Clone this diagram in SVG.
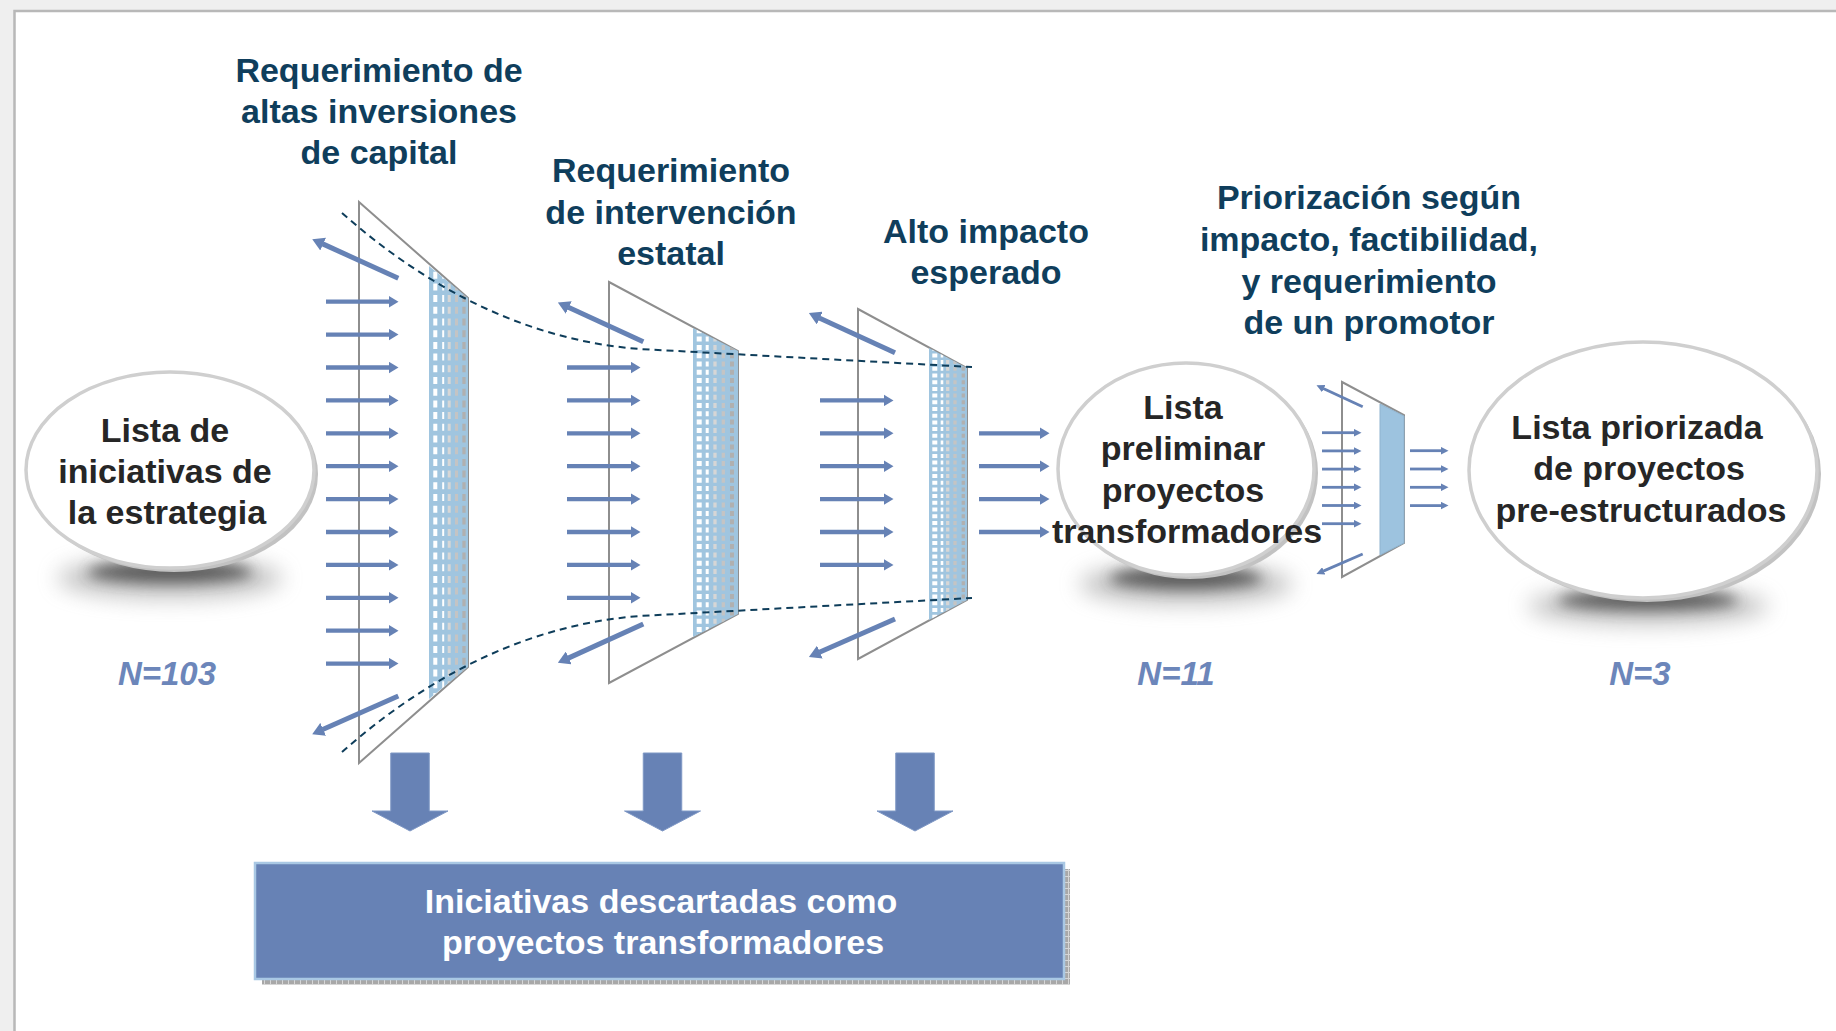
<svg xmlns="http://www.w3.org/2000/svg" width="1836" height="1031" viewBox="0 0 1836 1031">
<defs>
<style>
.t{font-family:"Liberation Sans",Arial,Helvetica,sans-serif;font-weight:bold;font-size:34px;text-anchor:middle}
.title{fill:#0f3e5c}
.node{fill:#262626}
.n{fill:#6c86ba;font-style:italic;font-size:33px}
.box{fill:#ffffff}
.frame{fill:none;stroke:#8e8e8e;stroke-width:2;stroke-linejoin:miter}
.mesh{fill:#a0c5df}
.ar{stroke:#6682b5;stroke-width:4.3;fill:none;marker-end:url(#hd)}
.ad{stroke:#6682b5;stroke-width:5;fill:none;marker-end:url(#hdd)}
.as{stroke:#6682b5;stroke-width:2.8;fill:none;marker-end:url(#hs)}
.dash{fill:none;stroke:#0e3d5a;stroke-width:2;stroke-dasharray:7 5}
.down{fill:#6782b5;stroke:#7f98c5;stroke-width:1}
.rim{fill:#c2c2c2}
.ell{fill:#ffffff;stroke:#cfcfcf;stroke-width:3.5}
.shw{fill:#8a8a8a;opacity:0.55;filter:url(#blurw)}
.shd{fill:#4a4a4a;opacity:0.85;filter:url(#blur)}
</style>
<filter id="blur" x="-40%" y="-150%" width="180%" height="400%"><feGaussianBlur stdDeviation="7"/></filter>
<filter id="blurw" x="-40%" y="-150%" width="180%" height="400%"><feGaussianBlur stdDeviation="11"/></filter>
<marker id="hd" viewBox="0 0 10 12" refX="0.5" refY="6" markerWidth="10" markerHeight="12" orient="auto" markerUnits="userSpaceOnUse"><path d="M0,0 L10,6 L0,12 Z" fill="#6682b5"/></marker>
<marker id="hdd" viewBox="0 0 12 14" refX="0.5" refY="7" markerWidth="12" markerHeight="14" orient="auto" markerUnits="userSpaceOnUse"><path d="M0,0 L12,7 L0,14 Z" fill="#6682b5"/></marker>
<marker id="hs" viewBox="0 0 8 8" refX="0.5" refY="4" markerWidth="8" markerHeight="8" orient="auto" markerUnits="userSpaceOnUse"><path d="M0,0 L8,4 L0,8 Z" fill="#6682b5"/></marker>
<pattern id="grid" width="6" height="6" patternUnits="userSpaceOnUse">
<rect width="6" height="6" fill="#a8a8a8"/>
<path d="M0,0.5 H6 M0.5,0 V6" stroke="#d6d6d6" stroke-width="1"/>
</pattern>
<clipPath id="m1"><polygon points="429,266 468,298 468,667 429,699"/></clipPath>
<clipPath id="m2"><polygon points="693,328 738,351 738,614 693,637"/></clipPath>
<clipPath id="m3"><polygon points="929,348 967,368 967,600 929,620"/></clipPath>
</defs>

<rect width="1836" height="1031" fill="#efefef"/>
<rect x="14.5" y="11" width="1840" height="1040" fill="#ffffff" stroke="#b8b8b8" stroke-width="2.5"/>

<!-- titles -->
<g id="title-1">
<text class="t title" x="379" y="82">Requerimiento de</text>
<text class="t title" x="379" y="123">altas inversiones</text>
<text class="t title" x="379" y="164">de capital</text>
</g>
<g id="title-2">
<text class="t title" x="671" y="182">Requerimiento</text>
<text class="t title" x="671" y="224">de intervención</text>
<text class="t title" x="671" y="265">estatal</text>
</g>
<g id="title-3">
<text class="t title" x="986" y="243">Alto impacto</text>
<text class="t title" x="986" y="284">esperado</text>
</g>
<g id="title-4">
<text class="t title" x="1369" y="209">Priorización según</text>
<text class="t title" x="1369" y="251">impacto, factibilidad,</text>
<text class="t title" x="1369" y="293">y requerimiento</text>
<text class="t title" x="1369" y="334">de un promotor</text>
</g>

<!-- filters -->
<g id="filter-1">
<polygon class="frame" points="359,202 468,298 468,667 359,763"/>
<polygon class="mesh" points="429,266 468,298 468,667 429,699"/>
<g clip-path="url(#m1)" stroke-dasharray="7 4.7">
<line x1="435.3" y1="260" x2="435.3" y2="705" stroke="#ffffff" stroke-width="4"/>
<line x1="443.2" y1="260" x2="443.2" y2="705" stroke="#ffffff" stroke-width="2"/>
<line x1="449.2" y1="260" x2="449.2" y2="705" stroke="#d6d6d6" stroke-width="3"/>
<line x1="456.5" y1="260" x2="456.5" y2="705" stroke="#c4c4c4" stroke-width="3"/>
<line x1="464" y1="260" x2="464" y2="705" stroke="#b0b0b0" stroke-width="3.3"/>
</g>
</g>
<g id="filter-2">
<polygon class="frame" points="609,282 738,351 738,614 609,683"/>
<polygon class="mesh" points="693,328 738,351 738,614 693,637"/>
<g clip-path="url(#m2)" stroke-dasharray="5 3.3">
<line x1="699.2" y1="320" x2="699.2" y2="645" stroke="#ffffff" stroke-width="5"/>
<line x1="707.2" y1="320" x2="707.2" y2="645" stroke="#ffffff" stroke-width="3"/>
<line x1="715" y1="320" x2="715" y2="645" stroke="#d6d6d6" stroke-width="3.3"/>
<line x1="723.3" y1="320" x2="723.3" y2="645" stroke="#c4c4c4" stroke-width="3.3"/>
<line x1="732" y1="320" x2="732" y2="645" stroke="#b0b0b0" stroke-width="4"/>
</g>
</g>
<g id="filter-3">
<polygon class="frame" points="858,309 967,368 967,600 858,659"/>
<polygon class="mesh" points="929,348 967,368 967,600 929,620"/>
<g clip-path="url(#m3)" stroke-dasharray="4 2.7">
<line x1="934.8" y1="340" x2="934.8" y2="630" stroke="#ffffff" stroke-width="5"/>
<line x1="942" y1="340" x2="942" y2="630" stroke="#ffffff" stroke-width="2.6"/>
<line x1="947.7" y1="340" x2="947.7" y2="630" stroke="#d6d6d6" stroke-width="3.3"/>
<line x1="955" y1="340" x2="955" y2="630" stroke="#c4c4c4" stroke-width="3.3"/>
<line x1="963.3" y1="340" x2="963.3" y2="630" stroke="#b0b0b0" stroke-width="3.3"/>
</g>
</g>
<g id="filter-4">
<polygon class="frame" points="1342,382 1404,415 1404,543 1342,577"/>
<polygon points="1380,404 1404,416 1404,543 1380,555" fill="#9dc3df" stroke="#8fb3cf" stroke-width="1"/>
</g>

<!-- nodes -->
<g id="node-lista-iniciativas">
<ellipse class="shw" cx="170" cy="578" rx="112" ry="20"/>
<ellipse class="shd" cx="170" cy="572" rx="82" ry="11"/>
<ellipse class="rim" cx="174" cy="474" rx="144" ry="98"/>
<ellipse class="ell" cx="170" cy="470" rx="144" ry="98"/>
<text class="t node" x="165" y="442">Lista de</text>
<text class="t node" x="165" y="483">iniciativas de</text>
<text class="t node" x="167" y="524">la estrategia</text>
</g>
<g id="node-lista-preliminar">
<ellipse class="shw" cx="1186" cy="584" rx="106" ry="20"/>
<ellipse class="shd" cx="1186" cy="578" rx="76" ry="11"/>
<ellipse class="rim" cx="1190" cy="473" rx="128" ry="106"/>
<ellipse class="ell" cx="1186" cy="469" rx="128" ry="106"/>
<text class="t node" x="1183" y="419">Lista</text>
<text class="t node" x="1183" y="460">preliminar</text>
<text class="t node" x="1183" y="502">proyectos</text>
<text class="t node" x="1187" y="543">transformadores</text>
</g>
<g id="node-lista-priorizada">
<ellipse class="shw" cx="1648" cy="606" rx="120" ry="18"/>
<ellipse class="shd" cx="1648" cy="600" rx="90" ry="10"/>
<ellipse class="rim" cx="1647" cy="474" rx="174" ry="128"/>
<ellipse class="ell" cx="1643" cy="470" rx="174" ry="128"/>
<text class="t node" x="1637" y="439">Lista priorizada</text>
<text class="t node" x="1639" y="480">de proyectos</text>
<text class="t node" x="1641" y="522">pre-estructurados</text>
</g>

<!-- counts -->
<g id="counts">
<text class="t n" x="167" y="685">N=103</text>
<text class="t n" x="1176" y="685">N=11</text>
<text class="t n" x="1640" y="685">N=3</text>
</g>

<!-- discarded box -->
<g id="node-descartadas">
<rect x="262" y="869" width="808" height="116" fill="url(#grid)"/>
<rect x="255" y="863" width="809" height="116" fill="#6782b5" stroke="#a9c8e4" stroke-width="2.5"/>
<text class="t box" x="661" y="913">Iniciativas descartadas como</text>
<text class="t box" x="663" y="954">proyectos transformadores</text>
</g>

<!-- connectors -->
<g id="connectors">
<path class="dash" d="M342,213 C420,282 520,340 640,349 L972,367"/>
<path class="dash" d="M342,752 C420,683 520,625 640,616 L972,598"/>

<line class="ar" x1="326" y1="301.7" x2="389" y2="301.7"/>
<line class="ar" x1="326" y1="334.6" x2="389" y2="334.6"/>
<line class="ar" x1="326" y1="367.5" x2="389" y2="367.5"/>
<line class="ar" x1="326" y1="400.4" x2="389" y2="400.4"/>
<line class="ar" x1="326" y1="433.3" x2="389" y2="433.3"/>
<line class="ar" x1="326" y1="466.2" x2="389" y2="466.2"/>
<line class="ar" x1="326" y1="499.1" x2="389" y2="499.1"/>
<line class="ar" x1="326" y1="532" x2="389" y2="532"/>
<line class="ar" x1="326" y1="564.9" x2="389" y2="564.9"/>
<line class="ar" x1="326" y1="597.8" x2="389" y2="597.8"/>
<line class="ar" x1="326" y1="630.7" x2="389" y2="630.7"/>
<line class="ar" x1="326" y1="663.6" x2="389" y2="663.6"/>
<line class="ad" x1="398.3" y1="278.3" x2="322.7" y2="243.9"/>
<line class="ad" x1="398.3" y1="696" x2="322.7" y2="729.5"/>

<line class="ar" x1="567" y1="367.5" x2="631" y2="367.5"/>
<line class="ar" x1="567" y1="400.4" x2="631" y2="400.4"/>
<line class="ar" x1="567" y1="433.3" x2="631" y2="433.3"/>
<line class="ar" x1="567" y1="466.2" x2="631" y2="466.2"/>
<line class="ar" x1="567" y1="499.1" x2="631" y2="499.1"/>
<line class="ar" x1="567" y1="532" x2="631" y2="532"/>
<line class="ar" x1="567" y1="564.9" x2="631" y2="564.9"/>
<line class="ar" x1="567" y1="597.8" x2="631" y2="597.8"/>
<line class="ad" x1="643.3" y1="341.7" x2="568.3" y2="307.3"/>
<line class="ad" x1="643.3" y1="624" x2="568.3" y2="658.1"/>

<line class="ar" x1="820" y1="400.4" x2="884" y2="400.4"/>
<line class="ar" x1="820" y1="433.3" x2="884" y2="433.3"/>
<line class="ar" x1="820" y1="466.2" x2="884" y2="466.2"/>
<line class="ar" x1="820" y1="499.1" x2="884" y2="499.1"/>
<line class="ar" x1="820" y1="532" x2="884" y2="532"/>
<line class="ar" x1="820" y1="564.9" x2="884" y2="564.9"/>
<line class="ad" x1="895" y1="352.7" x2="819.3" y2="317.9"/>
<line class="ad" x1="895" y1="619" x2="819.4" y2="652.3"/>

<line class="ar" x1="979" y1="433.3" x2="1040" y2="433.3"/>
<line class="ar" x1="979" y1="466.2" x2="1040" y2="466.2"/>
<line class="ar" x1="979" y1="499.1" x2="1040" y2="499.1"/>
<line class="ar" x1="979" y1="532" x2="1040" y2="532"/>

<line class="as" x1="1322" y1="432.7" x2="1354" y2="432.7"/>
<line class="as" x1="1322" y1="450.9" x2="1354" y2="450.9"/>
<line class="as" x1="1322" y1="469.1" x2="1354" y2="469.1"/>
<line class="as" x1="1322" y1="487.3" x2="1354" y2="487.3"/>
<line class="as" x1="1322" y1="505.5" x2="1354" y2="505.5"/>
<line class="as" x1="1322" y1="523.7" x2="1354" y2="523.7"/>
<line class="as" stroke-width="3.3" x1="1362.7" y1="406.7" x2="1323.3" y2="388.4"/>
<line class="as" stroke-width="3.3" x1="1362.7" y1="554" x2="1323.3" y2="571.1"/>

<line class="as" x1="1410" y1="450.7" x2="1441" y2="450.7"/>
<line class="as" x1="1410" y1="469" x2="1441" y2="469"/>
<line class="as" x1="1410" y1="487.3" x2="1441" y2="487.3"/>
<line class="as" x1="1410" y1="505.6" x2="1441" y2="505.6"/>

<path class="down" d="M390.75,753 H429.25 V811 H448 L410,831 L372,811 H390.75 Z"/>
<path class="down" d="M643.25,753 H681.75 V811 H700.5 L662.5,831 L624.5,811 H643.25 Z"/>
<path class="down" d="M895.75,753 H934.25 V811 H953 L915,831 L877,811 H895.75 Z"/>
</g>
</svg>
